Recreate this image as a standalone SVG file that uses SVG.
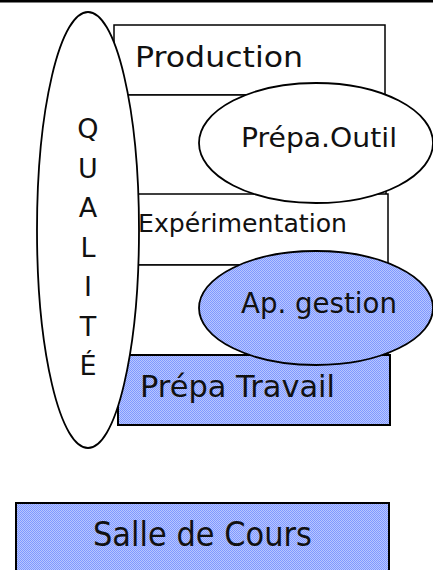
<svg xmlns="http://www.w3.org/2000/svg" width="433" height="570" viewBox="0 0 433 570">
<defs>
<pattern id="dither" width="2" height="2" patternUnits="userSpaceOnUse">
<rect width="2" height="2" fill="#b8c6ff"/>
<rect width="1" height="1" fill="#8099ff"/>
<rect x="1" y="1" width="1" height="1" fill="#8099ff"/>
</pattern>
<style>
.box{fill:#ffffff;stroke:#000000;stroke-width:1.5}
.blue{fill:url(#dither);stroke:#000000;stroke-width:2}
.ell{fill:#ffffff;stroke:#000000;stroke-width:1.8}
.ellb{fill:url(#dither);stroke:#000000;stroke-width:1.8}
text{font-family:"DejaVu Sans","Liberation Sans",sans-serif;fill:#111111}
.q{text-anchor:middle;font-size:27px}
</style>
</defs>
<rect x="0" y="0" width="433" height="2.5" fill="#000000"/>
<g id="production"><rect class="box" x="114" y="25" width="271" height="70"/><text x="135" y="67" font-size="29" textLength="168" lengthAdjust="spacingAndGlyphs">Production</text></g>
<g id="slot2"><rect class="box" x="114" y="95" width="272" height="100"/></g>
<g id="experimentation"><rect class="box" x="114" y="194" width="274" height="71"/><text x="138" y="232" font-size="25" textLength="209" lengthAdjust="spacingAndGlyphs">Expérimentation</text></g>
<g id="slot4"><rect class="box" x="114" y="265" width="274" height="90"/></g>
<g id="prepa-travail"><rect class="blue" x="118" y="355" width="272" height="70"/><text x="140" y="397" font-size="31" textLength="195" lengthAdjust="spacingAndGlyphs">Prépa Travail</text></g>
<g id="prepa-outil"><ellipse class="ell" cx="316" cy="143" rx="117" ry="60"/><text x="241" y="147" font-size="27" textLength="156" lengthAdjust="spacingAndGlyphs">Prépa.Outil</text></g>
<g id="ap-gestion"><ellipse class="ellb" cx="316" cy="308" rx="117" ry="57"/><text x="241" y="313" font-size="29" textLength="156" lengthAdjust="spacingAndGlyphs">Ap. gestion</text></g>
<g id="qualite"><ellipse class="ell" cx="88" cy="230" rx="51" ry="218"/>
<text class="q" x="88" y="138">Q</text>
<text class="q" x="88" y="178">U</text>
<text class="q" x="88" y="217">A</text>
<text class="q" x="88" y="257">L</text>
<text class="q" x="88" y="296">I</text>
<text class="q" x="88" y="336">T</text>
<text class="q" x="88" y="375">É</text>
</g>
<g id="salle-de-cours"><rect class="blue" x="16" y="503" width="373" height="80"/><text x="93" y="546" font-size="33" textLength="219" lengthAdjust="spacingAndGlyphs">Salle de Cours</text></g>
<g id="connectors"/>
</svg>
